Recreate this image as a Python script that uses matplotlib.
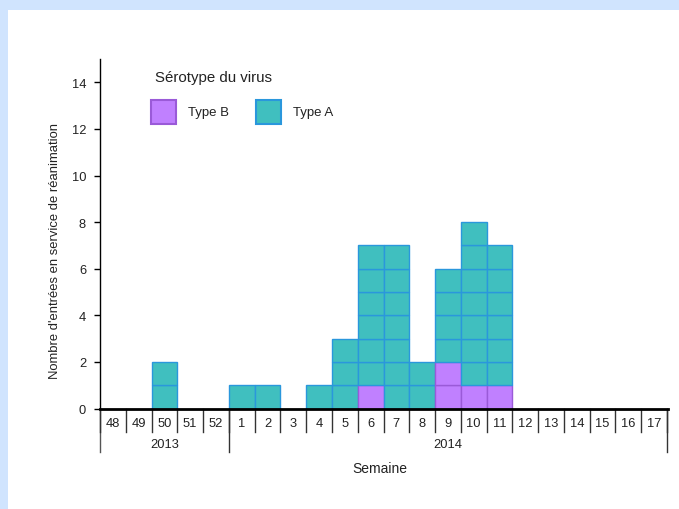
import matplotlib
matplotlib.use("Agg")
import matplotlib.pyplot as plt
from matplotlib.patches import Rectangle

plt.rcParams['font.family'] = ['Liberation Sans', 'DejaVu Sans']

weeks = ["48", "49", "50", "51", "52", "1", "2", "3", "4", "5", "6", "7", "8",
         "9", "10", "11", "12", "13", "14", "15", "16", "17"]
type_b = [0, 0, 0, 0, 0, 0, 0, 0, 0, 0, 1, 0, 0, 2, 1, 1, 0, 0, 0, 0, 0, 0]
type_a = [0, 0, 2, 0, 0, 1, 1, 0, 1, 3, 6, 7, 2, 4, 7, 6, 0, 0, 0, 0, 0, 0]
years = ["2013", "2014"]
year_counts = [5, 17]
yticks = [0, 2, 4, 6, 8, 10, 12, 14]

W, H = 679, 510
fig = plt.figure(figsize=(W / 100, H / 100), dpi=100)
fig.patch.set_facecolor('#d0e4fe')
# white panel
fig.add_artist(Rectangle((8 / W, 0), 1, (H - 11) / H, transform=fig.transFigure,
                         facecolor='white', edgecolor='none', zorder=0))

ax = fig.add_axes([100 / W, (H - 409.5) / H, 567 / W, 349.5 / H])
ax.set_facecolor('none')
n = len(weeks)
ax.set_xlim(0, n)
ax.set_ylim(0, 15)

col_a, edge_a = '#40bfbf', '#2a97dc'
col_b, edge_b = '#c080ff', '#9a5ad8'
for i in range(n):
    bottom = 0
    for _ in range(type_b[i]):
        ax.bar(i + 0.5, 1, width=1, bottom=bottom, color=col_b, edgecolor=edge_b,
               linewidth=1, zorder=2)
        bottom += 1
    for _ in range(type_a[i]):
        ax.bar(i + 0.5, 1, width=1, bottom=bottom, color=col_a, edgecolor=edge_a,
               linewidth=1, zorder=2)
        bottom += 1

for s in ['top', 'right']:
    ax.spines[s].set_visible(False)
ax.spines['left'].set_color('black')
ax.spines['left'].set_linewidth(1)
ax.spines['bottom'].set_linewidth(2)
ax.spines['bottom'].set_zorder(5)
ax.spines['bottom'].set_bounds(0, n + 0.05)

tc = '#222222'
ax.set_yticks(yticks)
ax.set_yticklabels([str(v) for v in yticks], fontsize=9.3, color=tc)
ax.tick_params(axis='y', length=4, width=1, pad=6)
ax.set_xticks([])

# x "table" axis
ppu = 349.5 / 15  # pixels per y unit
def dy(px):
    return -px / ppu

for i in range(n + 1):
    ax.plot([i, i], [0, dy(23)], color='#333333', lw=1, clip_on=False, zorder=4)
for i, w in enumerate(weeks):
    ax.text(i + 0.5, dy(14.5), w, ha='center', va='center', fontsize=9.3, color=tc,
            clip_on=False)

pos = 0
ax.plot([0, 0], [0, dy(43)], color='#555555', lw=1, clip_on=False)
for y, c in zip(years, year_counts):
    ax.text(pos + c / 2, dy(35.5), y, ha='center', va='center', fontsize=9.3, color=tc,
            clip_on=False)
    pos += c
    ax.plot([pos, pos], [0, dy(43)], color='#333333', lw=1, clip_on=False)

fig.text(380 / W, 1 - 469 / H, "Semaine", ha='center', va='center', fontsize=10, color=tc)
fig.text(55 / W, 1 - 251 / H, "Nombre d'entrées en service de réanimation",
         ha='center', va='center', rotation=90, fontsize=9.4, color=tc)

# legend
fig.text(155 / W, 1 - 78 / H, "Sérotype du virus", ha='left', va='center', fontsize=10.8,
         color=tc)
fig.add_artist(Rectangle((151 / W, 1 - 125 / H), 25 / W, 24 / H, transform=fig.transFigure,
                         facecolor=col_b, edgecolor=edge_b, lw=1.5))
fig.text(188 / W, 1 - 113 / H, "Type B", ha='left', va='center', fontsize=9.5, color=tc)
fig.add_artist(Rectangle((256 / W, 1 - 125 / H), 25 / W, 24 / H, transform=fig.transFigure,
                         facecolor=col_a, edgecolor=edge_a, lw=1.5))
fig.text(293 / W, 1 - 113 / H, "Type A", ha='left', va='center', fontsize=9.5, color=tc)

fig.savefig("out.png", dpi=100, facecolor=fig.get_facecolor())
